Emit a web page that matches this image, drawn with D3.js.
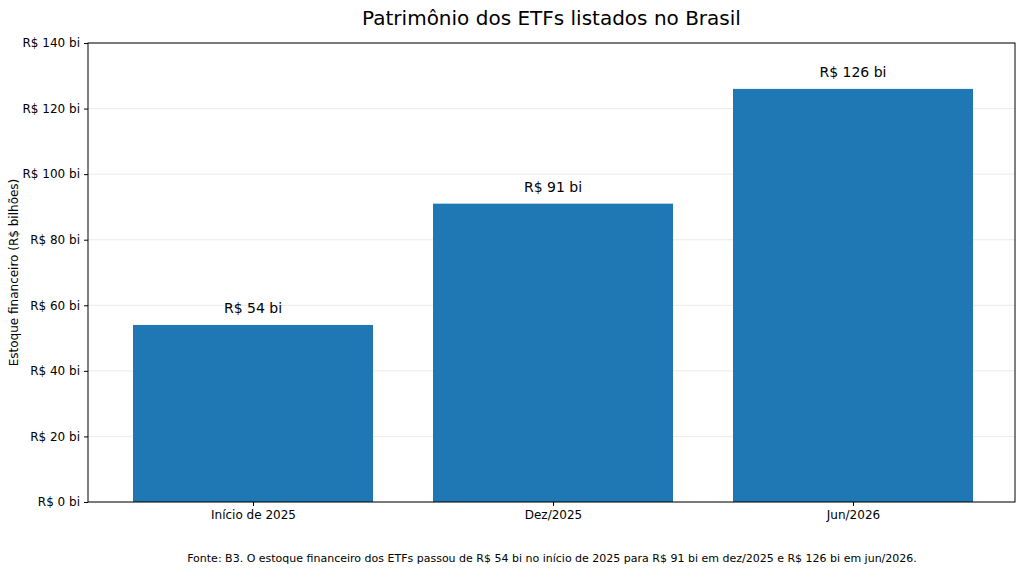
<!DOCTYPE html>
<html><head><meta charset="utf-8">
<script src="https://cdn.jsdelivr.net/npm/d3@7"></script>
<style>body{margin:0;background:#fff}text{font-family:"DejaVu Sans",sans-serif}</style>
</head><body>
<svg id="c" width="1024" height="573"></svg>
<script>
var categories = ["Início de 2025", "Dez/2025", "Jun/2026"];
var values = [54, 91, 126];
var yTicks = [0, 20, 40, 60, 80, 100, 120, 140];

var svg = d3.select("#c");
var plotLeft = 88, plotRight = 1015, plotTop = 43, plotBottom = 502;

var x = d3.scaleLinear().domain([-0.55, 2.54]).range([plotLeft, plotRight]);
var y = d3.scaleLinear().domain([0, 140]).range([plotBottom, plotTop]);

// grid
svg.append("g").selectAll("line").data(yTicks).join("line")
    .attr("x1", plotLeft).attr("x2", plotRight)
    .attr("y1", d => y(d)).attr("y2", d => y(d))
    .attr("stroke", "#e6e6e6").attr("stroke-width", 0.8);

// bars
svg.append("g").selectAll("rect").data(values).join("rect")
    .attr("x", (d, i) => x(i - 0.4))
    .attr("width", x(0.4) - x(-0.4))
    .attr("y", d => y(d))
    .attr("height", d => y(0) - y(d))
    .attr("fill", "#1f77b4");

svg.append("g").selectAll("text").data(values).join("text")
    .attr("x", (d, i) => x(i)).attr("y", d => y(d) - 12)
    .attr("text-anchor", "middle").attr("font-size", 14)
    .text(d => "R$ " + d + " bi");

// axes
var yAxis = d3.axisLeft(y).tickValues(yTicks).tickSize(4).tickPadding(4)
    .tickFormat(d => "R$ " + d + " bi");
var gy = svg.append("g").attr("transform", "translate(" + plotLeft + ",0)").call(yAxis);
gy.selectAll("text").attr("font-size", 12).attr("fill", "#000");
gy.select(".domain").remove();

var xAxis = d3.axisBottom(x).tickValues([0, 1, 2]).tickSize(4).tickPadding(4)
    .tickFormat(i => categories[i]);
var gx = svg.append("g").attr("transform", "translate(0," + plotBottom + ")").call(xAxis);
gx.selectAll("text").attr("font-size", 12).attr("fill", "#000");
gx.select(".domain").remove();

svg.append("rect").attr("x", plotLeft).attr("y", plotTop)
    .attr("width", plotRight - plotLeft).attr("height", plotBottom - plotTop)
    .attr("fill", "none").attr("stroke", "#000").attr("stroke-width", 1);

svg.append("text").attr("x", (plotLeft + plotRight) / 2).attr("y", 25)
    .attr("text-anchor", "middle").attr("font-size", 20)
    .text("Patrimônio dos ETFs listados no Brasil");

svg.append("text").attr("transform", "translate(18," + ((plotTop + plotBottom) / 2) + ") rotate(-90)")
    .attr("text-anchor", "middle").attr("font-size", 12)
    .text("Estoque financeiro (R$ bilhões)");

svg.append("text").attr("x", 552).attr("y", 562)
    .attr("text-anchor", "middle").attr("font-size", 11)
    .text("Fonte: B3. O estoque financeiro dos ETFs passou de R$ 54 bi no início de 2025 para R$ 91 bi em dez/2025 e R$ 126 bi em jun/2026.");
</script>
</body></html>
